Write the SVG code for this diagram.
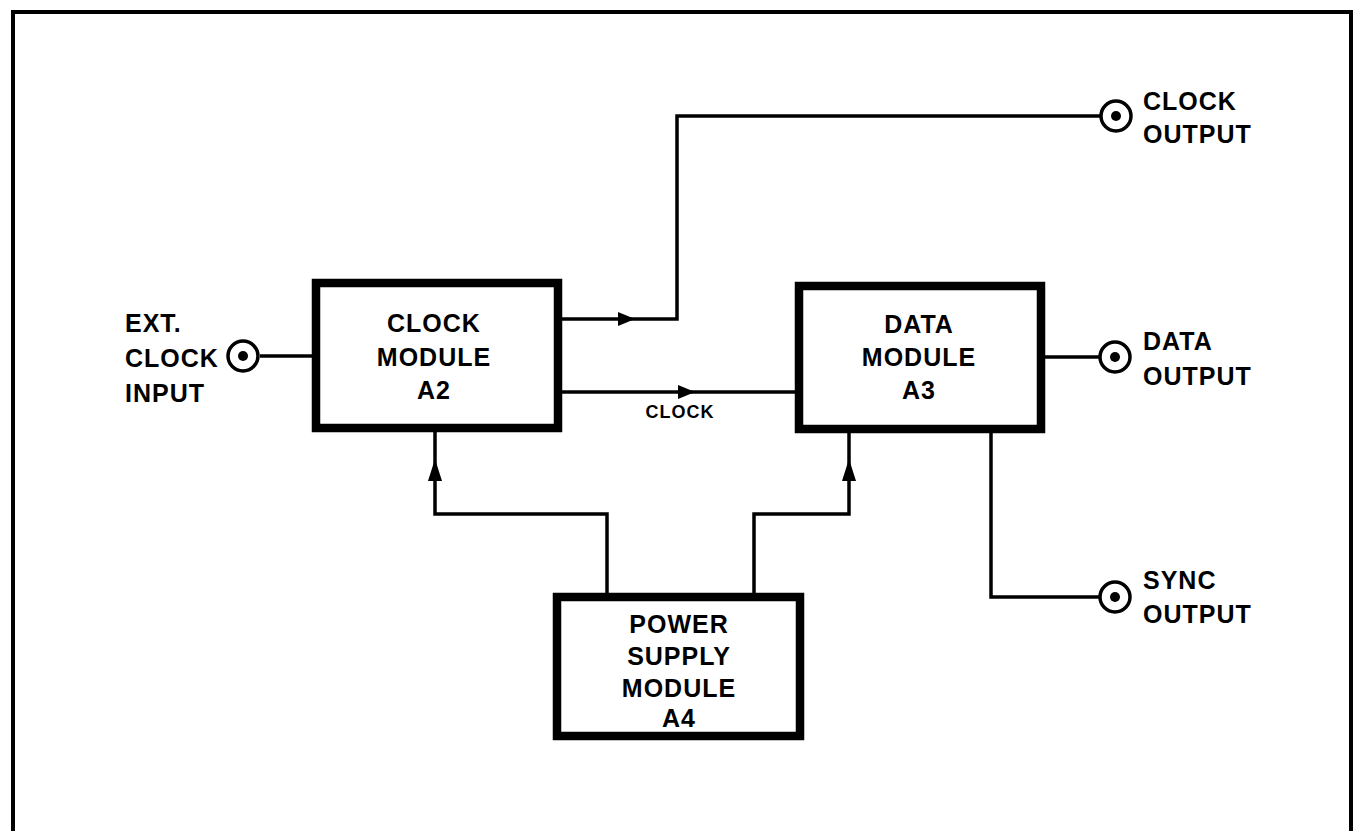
<svg xmlns="http://www.w3.org/2000/svg" width="1359" height="831" viewBox="0 0 1359 831">
<style>
.box{fill:#fff;stroke:#000;stroke-width:8.5}
.ln{fill:none;stroke:#000;stroke-width:3.5}
.jack{fill:#fff;stroke:#000;stroke-width:3.5}
.dot{fill:#000}
.t{font-family:"Liberation Sans",Arial,sans-serif;font-weight:bold;font-size:25px;letter-spacing:1px;fill:#000}
.s{font-size:18px}
.ah{fill:#000}
</style>
<rect width="1359" height="831" fill="#fff"/>
<path d="M13,840 V12 H1351 V840" fill="none" stroke="#000" stroke-width="4"/>
<g id="connectors">
<path class="ln" d="M260,356 H316"/>
<path class="ln" d="M562,319 H677 V116 H1101"/>
<path class="ln" d="M562,392 H799"/>
<path class="ln" d="M1045,357 H1099"/>
<path class="ln" d="M991,433 V597 H1099"/>
<path class="ln" d="M607,593 V514 H435 V432"/>
<path class="ln" d="M754,593 V514 H849 V433"/>
<polygon class="ah" points="635,319 618,312 618,326"/>
<polygon class="ah" points="695,392 678,385 678,399"/>
<polygon class="ah" points="435,459 428,481 442,481"/>
<polygon class="ah" points="849,459 842,481 856,481"/>
<text class="t s" x="680" y="418" text-anchor="middle">CLOCK</text>
</g>
<g id="ext-clock-input">
<circle class="jack" cx="243" cy="356" r="15"/>
<circle class="dot" cx="243" cy="356" r="5"/>
<text class="t" x="125" y="332">EXT.</text>
<text class="t" x="125" y="367">CLOCK</text>
<text class="t" x="125" y="402">INPUT</text>
</g>
<g id="clock-module">
<rect class="box" x="316" y="283" width="242" height="145"/>
<text class="t" text-anchor="middle" x="434" y="332">CLOCK</text>
<text class="t" text-anchor="middle" x="434" y="366">MODULE</text>
<text class="t" text-anchor="middle" x="434" y="399">A2</text>
</g>
<g id="data-module">
<rect class="box" x="799" y="286" width="242" height="143"/>
<text class="t" text-anchor="middle" x="919" y="333">DATA</text>
<text class="t" text-anchor="middle" x="919" y="366">MODULE</text>
<text class="t" text-anchor="middle" x="919" y="399">A3</text>
</g>
<g id="power-supply-module">
<rect class="box" x="557" y="597" width="243" height="139"/>
<text class="t" text-anchor="middle" x="679" y="633">POWER</text>
<text class="t" text-anchor="middle" x="679" y="665">SUPPLY</text>
<text class="t" text-anchor="middle" x="679" y="697">MODULE</text>
<text class="t" text-anchor="middle" x="679" y="727">A4</text>
</g>
<g id="clock-output">
<circle class="jack" cx="1116" cy="116" r="15"/>
<circle class="dot" cx="1116" cy="116" r="5"/>
<text class="t" x="1143" y="110">CLOCK</text>
<text class="t" x="1143" y="143">OUTPUT</text>
</g>
<g id="data-output">
<circle class="jack" cx="1115" cy="357" r="15"/>
<circle class="dot" cx="1115" cy="357" r="5"/>
<text class="t" x="1143" y="350">DATA</text>
<text class="t" x="1143" y="385">OUTPUT</text>
</g>
<g id="sync-output">
<circle class="jack" cx="1115" cy="597" r="15"/>
<circle class="dot" cx="1115" cy="597" r="5"/>
<text class="t" x="1143" y="589">SYNC</text>
<text class="t" x="1143" y="623">OUTPUT</text>
</g>
</svg>
